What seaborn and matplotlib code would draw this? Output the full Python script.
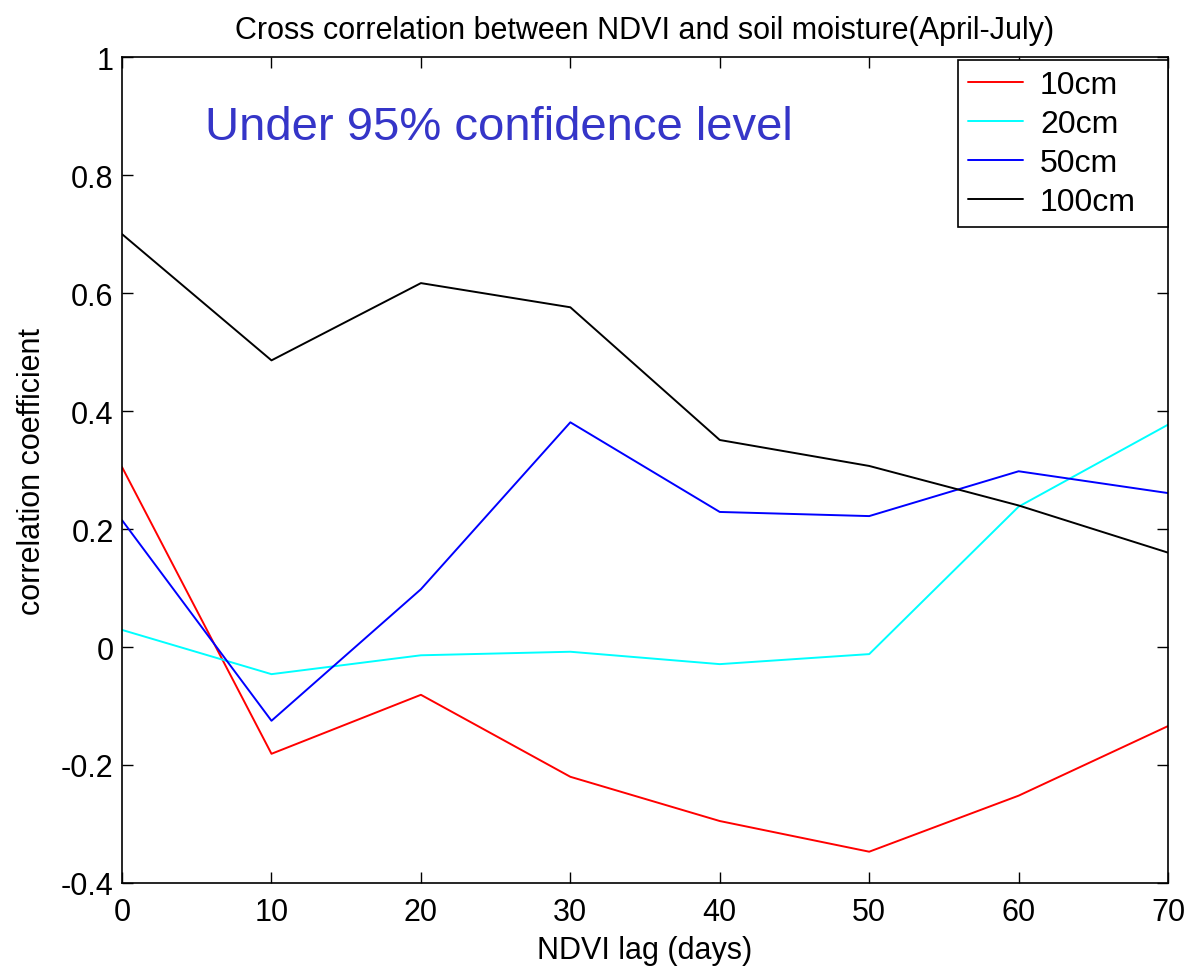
import matplotlib
matplotlib.use("Agg")
import matplotlib.pyplot as plt
import numpy as np
import pandas as pd
import seaborn as sns

# NDVI lag (days) and cross-correlation coefficients per soil depth
lags = [0, 10, 20, 30, 40, 50, 60, 70]
depths = ["10cm", "20cm", "50cm", "100cm"]
r_10cm = [0.305, -0.181, -0.081, -0.220, -0.295, -0.347, -0.252, -0.134]
r_20cm = [0.029, -0.046, -0.014, -0.008, -0.029, -0.012, 0.238, 0.377]
r_50cm = [0.215, -0.125, 0.098, 0.381, 0.229, 0.222, 0.298, 0.261]
r_100cm = [0.700, 0.486, 0.617, 0.576, 0.351, 0.307, 0.240, 0.160]
x_ticks = [0, 10, 20, 30, 40, 50, 60, 70]
y_ticks = [-0.4, -0.2, 0, 0.2, 0.4, 0.6, 0.8, 1]
y_tick_labels = ["-0.4", "-0.2", "0", "0.2", "0.4", "0.6", "0.8", "1"]

series = {"10cm": r_10cm, "20cm": r_20cm, "50cm": r_50cm, "100cm": r_100cm}
df = pd.DataFrame(
    [(lag, d, v) for d in depths for lag, v in zip(lags, series[d])],
    columns=["lag", "depth", "r"],
)

sns.set_style("ticks")
plt.rcParams["font.family"] = ["Liberation Sans", "DejaVu Sans"]
plt.rcParams["text.color"] = "black"
plt.rcParams["axes.labelcolor"] = "black"
plt.rcParams["xtick.color"] = "black"
plt.rcParams["ytick.color"] = "black"
plt.rcParams["xtick.direction"] = "in"
plt.rcParams["ytick.direction"] = "in"

fig = plt.figure(figsize=(11.85, 9.7), dpi=100)
ax = fig.add_axes([0.103, 0.0887, 0.8827, 0.8513])

palette = {"10cm": "#ff0000", "20cm": "#00ffff", "50cm": "#0000ff", "100cm": "#000000"}
sns.lineplot(data=df, x="lag", y="r", hue="depth", hue_order=depths,
             palette=palette, linewidth=1.4, ax=ax, estimator=None, sort=False)

ax.set_xlim(0, 70)
ax.set_ylim(-0.4, 1)
ax.set_xticks(x_ticks)
ax.set_xticklabels([str(t) for t in x_ticks])
ax.set_yticks(y_ticks)
ax.set_yticklabels(y_tick_labels)
ax.tick_params(axis="both", which="major", direction="in", length=8, width=1,
               labelsize=22, top=True, right=True, color="black",
               labelcolor="black")
ax.tick_params(axis="x", pad=10)
ax.tick_params(axis="y", pad=6)
for side in ["left", "right", "top", "bottom"]:
    ax.spines[side].set_visible(True)
    ax.spines[side].set_color("black")
    ax.spines[side].set_linewidth(1.2)

ax.set_title("Cross correlation between NDVI and soil moisture(April-July)",
             fontsize=22, pad=14, color="black")
ax.set_xlabel("NDVI lag (days)", fontsize=22, labelpad=6)
ax.set_ylabel("correlation coefficient", fontsize=22, labelpad=10)

ax.text(0.079, 0.915, "Under 95% confidence level", transform=ax.transAxes,
        fontsize=34, color="#3535c8", ha="left", va="center")

# legend box pinned to the upper-right corner, stretched to a fixed width
leg_w = 0.2008
handles, labels = ax.get_legend_handles_labels()
leg = ax.legend(handles, labels, loc="upper right",
                bbox_to_anchor=(1 - leg_w, 0.0, leg_w, 0.997), mode="expand",
                borderaxespad=0.0, fontsize=23, frameon=True, fancybox=False,
                edgecolor="black", handlelength=1.7, handletextpad=0.55,
                labelspacing=0.28, borderpad=0.32, framealpha=1.0)
leg.get_frame().set_linewidth(1.2)

fig.savefig("out.png", dpi=100, facecolor="white")
